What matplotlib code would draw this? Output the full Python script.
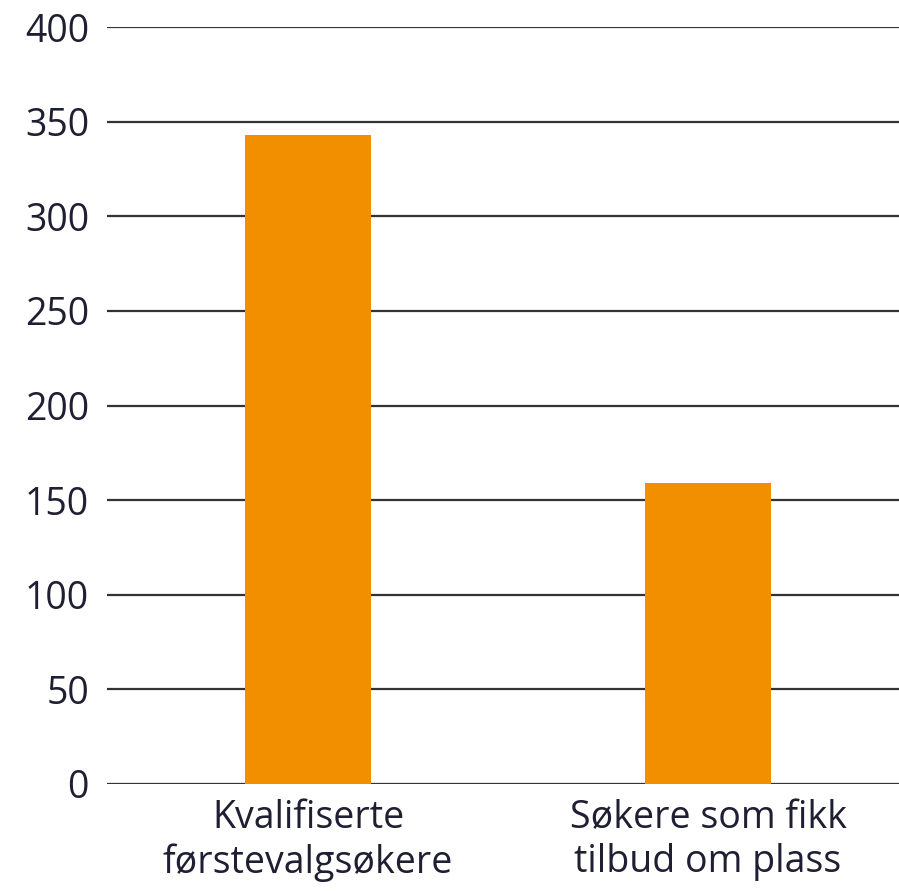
import matplotlib
matplotlib.use("Agg")
import matplotlib.pyplot as plt

categories = ["Kvalifiserte\nførstevalgsøkere", "Søkere som fikk\ntilbud om plass"]
values = [343, 159]
yticks = [0, 50, 100, 150, 200, 250, 300, 350, 400]

bar_color = "#F18F00"
text_color = "#1f1f33"
grid_color = "#333333"

plt.rcParams['font.family'] = ['Open Sans', 'DejaVu Sans']

fig = plt.figure(figsize=(8.99, 8.91), dpi=100)
ax = fig.add_axes([107/899, 107/891, 792/899, (784-27)/891])

x = list(range(len(categories)))
ax.bar(x, values, width=0.315, color=bar_color, zorder=3)

ax.set_xlim(-0.5025, 1.4775)
ax.set_ylim(0, 400)
ax.set_yticks(yticks)
ax.set_yticklabels([str(t) for t in yticks])
ax.set_xticks(x)
ax.set_xticklabels(categories, linespacing=1.2)

ax.yaxis.grid(True, color=grid_color, linewidth=1.6, zorder=1)
ax.set_axisbelow(True)
for s in ax.spines.values():
    s.set_visible(False)
ax.tick_params(axis='both', length=0, colors=text_color, labelsize=27)
ax.tick_params(axis='y', pad=13)
ax.tick_params(axis='x', pad=11)

fig.savefig("out.png", dpi=100)
